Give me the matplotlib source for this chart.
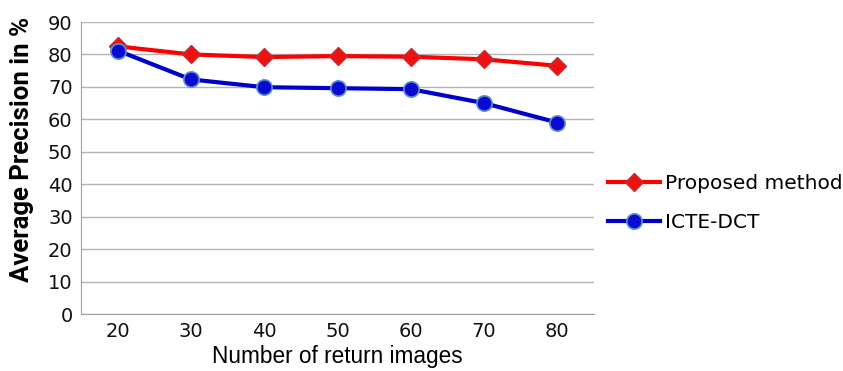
import matplotlib
matplotlib.use("Agg")
import matplotlib.pyplot as plt

categories = ["20", "30", "40", "50", "60", "70", "80"]
proposed = [82.5, 80.0, 79.2, 79.5, 79.3, 78.5, 76.5]
icte_dct = [81.2, 72.3, 69.9, 69.6, 69.3, 65.0, 59.0]
yticks = [0, 10, 20, 30, 40, 50, 60, 70, 80, 90]

fig = plt.figure(figsize=(8.43, 3.71), dpi=100)
ax = fig.add_axes([81/843, 1-314/371, 513/843, 292/371])
x = list(range(len(categories)))
ax.plot(x, proposed, color="#ff0000", lw=3, marker="D", ms=9,
        markerfacecolor="#ee1111", markeredgecolor="#c03030", mew=1, label="Proposed method", zorder=3)
ax.plot(x, icte_dct, color="#0000cc", lw=3, marker="o", ms=11,
        markerfacecolor="#0a0ad0", markeredgecolor="#5b8fd0", mew=1.2, label="ICTE-DCT", zorder=3)
ax.set_xlim(-0.5, len(categories)-0.5)
ax.set_ylim(0, 90)
ax.set_yticks(yticks)
ax.set_xticks(x)
ax.set_xticklabels(categories)
ax.grid(axis="y", color="#b4b4b4", lw=1)
ax.set_axisbelow(True)
for s in ["top", "right"]:
    ax.spines[s].set_visible(False)
for s in ["left", "bottom"]:
    ax.spines[s].set_color("#a0a0a0")
ax.tick_params(length=0, labelsize=14, pad=6, colors="#111111")
ax.set_xlabel("Number of return images", fontsize=16.3, family="Liberation Sans")
ax.xaxis.set_label_coords(0.5, (314-357)/292, transform=ax.transAxes)
ax.xaxis.label.set_va("center")
ax.set_ylabel("Average Precision in %", fontsize=18.5, fontweight="bold", family="Roboto")
ax.yaxis.set_label_coords((22-81)/513, (314-149)/292, transform=ax.transAxes)
ax.yaxis.label.set_va("center")
ax.legend(loc="upper left", bbox_to_anchor=(608/843, 1-174/371), bbox_transform=fig.transFigure,
          frameon=False, fontsize=14.5, handlelength=2.6, labelspacing=1.0, handletextpad=0.25,
          borderaxespad=0, borderpad=0)
fig.savefig("out.png", dpi=100, facecolor="white")
